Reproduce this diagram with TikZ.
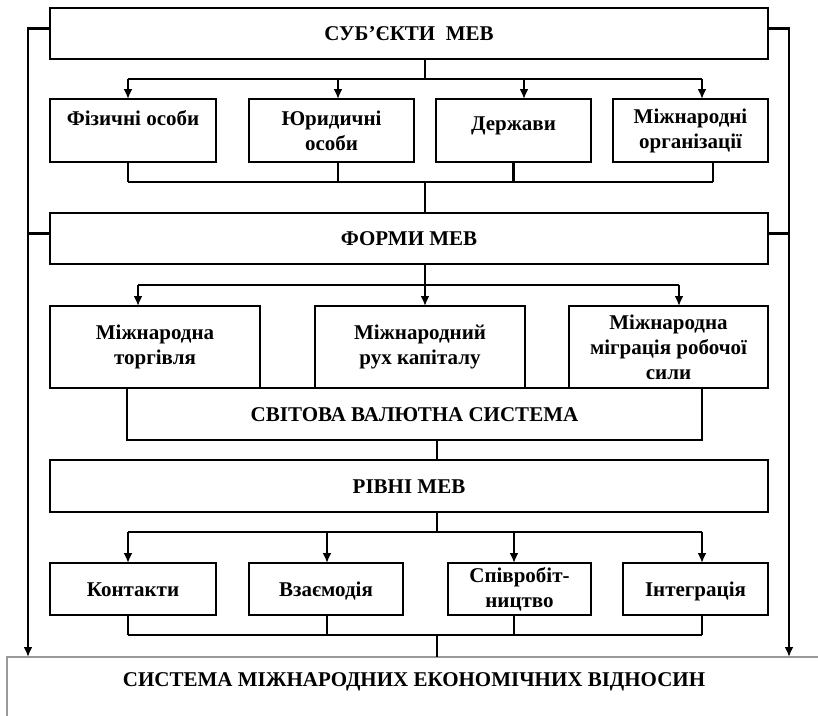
\documentclass[tikz,border=0pt]{standalone}
\usepackage{fontspec}
\setmainfont{Liberation Serif}
\usetikzlibrary{arrows.meta, positioning}

\tikzset{
  block/.style={draw, inner sep=0pt, outer sep=0pt, align=center,
    font=\bfseries\fontsize{21}{25}\selectfont},
  one/.style={text height=14pt, text depth=0pt},
  wide/.style={block, one, minimum width=718pt, minimum height=51pt},
  sysbox/.style={block, draw=gray!80, line width=1.2pt, anchor=north,
    minimum width=814pt, text height=29pt, text depth=87pt}
}

\begin{document}
\begin{tikzpicture}[x=1pt, y=-1pt, line width=2.2pt, >={Latex[length=10pt, width=9pt]}]
	\useasboundingbox (0,0) rectangle (818,715);
	\clip (0,0) rectangle (818,715);
	\coordinate (lb) at (28,0);
	\coordinate (rb) at (789,0);
	\coordinate (b_1) at (0,79);
	\coordinate (b_2) at (0,182);
	\coordinate (b_3) at (0,285);
	\coordinate (b_5) at (0,532);
	\coordinate (b_6) at (0,635);

	% main blocks
	\node[wide] (s) at (409,33.5) {СУБ’ЄКТИ\ \ МЕВ};
	\node[wide] (fm) at (409,238.5) {ФОРМИ МЕВ};
	\node[block, one, minimum width=575pt, minimum height=52pt] (v) at (414.5,414) {СВІТОВА ВАЛЮТНА СИСТЕМА};
	\node[wide, minimum height=52pt] (r) at (409,486) {РІВНІ МЕВ};
	\node[sysbox] (e) at (414,657) {СИСТЕМА МІЖНАРОДНИХ ЕКОНОМІЧНИХ ВІДНОСИН};

	% subjects
	\node[block, minimum width=166pt, minimum height=63pt] (f_1) at (133,130.5) {Фізичні особи\\~};
	\node[block, minimum width=165pt, minimum height=63pt] (f_2) at (331.5,130.5) {Юридичні\\особи};
	\node[block, text height=14pt, text depth=14pt, minimum width=155pt, minimum height=63pt] (f_3) at (513.5,130.5) {Держави};
	\node[block, minimum width=155pt, minimum height=63pt] (f_4) at (690.5,130.5) {Міжнародні\\організації};

	% forms
	\node[block, minimum width=210pt, minimum height=82pt] (m_1) at (155,347) {Міжнародна\\торгівля};
	\node[block, minimum width=210pt, minimum height=82pt] (m_2) at (420,347) {Міжнародний\\рух капіталу};
	\node[block, minimum width=199pt, minimum height=82pt] (m_3) at (668.5,347) {Міжнародна\\міграція робочої\\сили};

	% levels
	\node[block, one, minimum width=166pt, minimum height=52pt] (l_1) at (133,589) {Контакти};
	\node[block, one, minimum width=154pt, minimum height=52pt] (l_2) at (326,589) {Взаємодія};
	\node[block, minimum width=143pt, minimum height=52pt] (l_3) at (519.5,589) {Співробіт-\\ництво};
	\node[block, one, minimum width=145pt, minimum height=52pt] (l_4) at (695.5,589) {Інтеграція};

	% side lines
	\draw[->] ([yshift=5pt]s.west) -| (lb |- e.north);
	\draw[->] ([yshift=5pt]s.east) -| (rb |- e.north);
	\draw ([yshift=5pt]fm.west) -- ([yshift=5pt]fm.west -| lb);
	\draw ([yshift=5pt]fm.east) -- ([yshift=5pt]fm.east -| rb);

	% subjects -> forms
	\draw ([xshift=16pt]s.south) -- ([xshift=16pt]s.south |- b_1);
	\draw ([xshift=-5pt]f_1.north |- b_1) -- ([xshift=11.5pt]f_4.north |- b_1);
	\foreach \n/\d in {1/-5, 2/6.5, 3/10.5, 4/11.5}
		\draw[->] ([xshift=\d pt]f_\n.north |- b_1) -- ([xshift=\d pt]f_\n.north);
	\foreach \n/\d in {1/-5, 2/6.5, 3/0, 4/22.5}
		\draw ([xshift=\d pt]f_\n.south) -- ([xshift=\d pt]f_\n.south |- b_2);
	\draw ([xshift=-5pt]f_1.south |- b_2) -- ([xshift=22.5pt]f_4.south |- b_2);
	\draw ([xshift=16pt]fm.north |- b_2) -- ([xshift=16pt]fm.north);

	% forms -> currency system -> levels
	\draw ([xshift=16pt]fm.south) -- ([xshift=16pt]fm.south |- b_3);
	\draw ([xshift=-17pt]m_1.north |- b_3) -- ([xshift=10.5pt]m_3.north |- b_3);
	\foreach \n/\d in {1/-17, 2/5, 3/10.5}
		\draw[->] ([xshift=\d pt]m_\n.north |- b_3) -- ([xshift=\d pt]m_\n.north);
	\draw ([xshift=22.5pt]v.south) -- ([xshift=22.5pt]v.south |- r.north);

	% levels -> system
	\draw ([xshift=28pt]r.south) -- ([xshift=28pt]r.south |- b_5);
	\draw ([xshift=-5pt]l_1.north |- b_5) -- ([xshift=6.5pt]l_4.north |- b_5);
	\foreach \n/\d in {1/-5, 2/1, 3/-5.5, 4/6.5}{
		\draw[->] ([xshift=\d pt]l_\n.north |- b_5) -- ([xshift=\d pt]l_\n.north);
		\draw ([xshift=\d pt]l_\n.south) -- ([xshift=\d pt]l_\n.south |- b_6);
	}
	\draw ([xshift=-5pt]l_1.south |- b_6) -- ([xshift=6.5pt]l_4.south |- b_6);
	\draw ([xshift=28pt]r.south |- b_6) -- ([xshift=28pt]r.south |- e.north);
\end{tikzpicture}
\end{document}
